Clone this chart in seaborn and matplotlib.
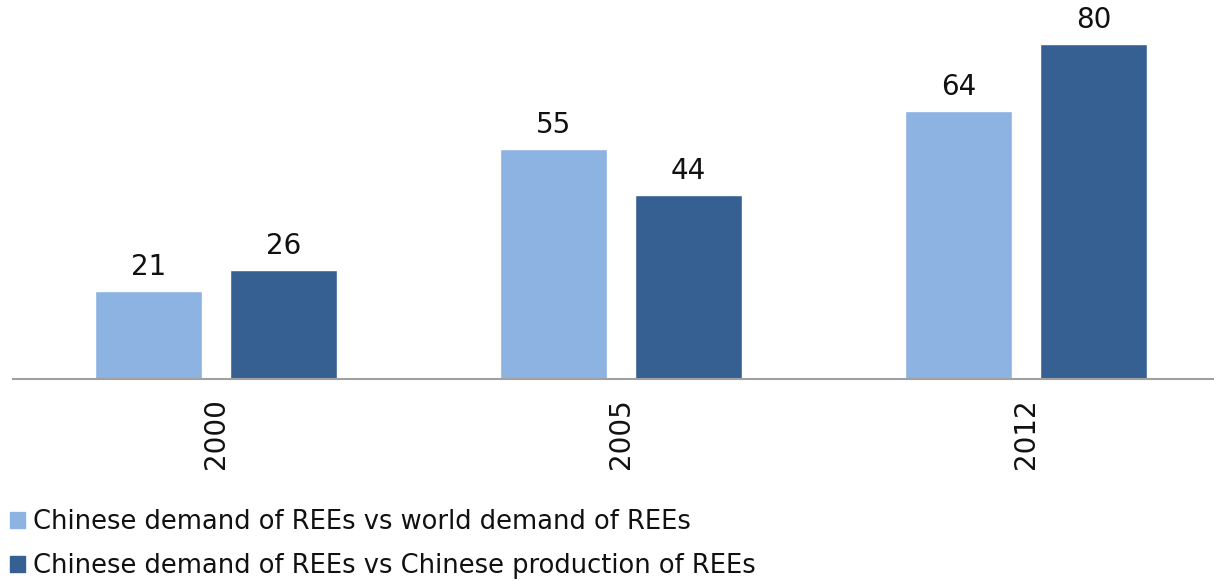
import numpy as np
import pandas as pd
import seaborn as sns
import matplotlib.pyplot as plt

years = ['2000', '2005', '2012']
world_share = [21, 55, 64]
production_share = [26, 44, 80]
series_names = ['Chinese demand of REEs vs world demand of REEs',
                'Chinese demand of REEs vs Chinese production of REEs']
colors = ['#8DB3E2', '#366092']

df = pd.DataFrame({
    'year': years * 2,
    'value': world_share + production_share,
    'series': [series_names[0]] * 3 + [series_names[1]] * 3,
})

sns.set_style('white')
plt.rcParams['font.family'] = ['DejaVu Sans']

fig = plt.figure(figsize=(12.14, 5.81), dpi=100)
ax = fig.add_axes([13 / 1214, (581 - 379) / 581, (1214 - 13) / 1214, 379 / 581])

sns.barplot(data=df, x='year', y='value', hue='series', palette=colors,
            width=0.667, gap=0.207, ax=ax, legend=False, saturation=1)

for cont in ax.containers:
    ax.bar_label(cont, padding=7, fontsize=20, color='#111111')

ax.set_xlim(-0.501, 2.464)
ax.set_ylim(0, 90.5)
ax.set_xlabel('')
ax.set_ylabel('')
ax.set_yticks([])
ax.tick_params(axis='x', length=0, pad=14, labelsize=20, labelrotation=90)
for lab in ax.get_xticklabels():
    lab.set_color('#111111')
for s in ['top', 'right', 'left']:
    ax.spines[s].set_visible(False)
ax.spines['bottom'].set_color('#a0a0a0')
ax.spines['bottom'].set_linewidth(1.5)

handles = [plt.Rectangle((0, 0), 1, 1, color=c) for c in colors]
leg = fig.legend(handles, series_names, loc='upper left', bbox_to_anchor=(0.004, 0.133),
                 frameon=False, fontsize=18.5, handlelength=0.6, handleheight=0.6,
                 handletextpad=0.3, labelspacing=0.72, borderaxespad=0, borderpad=0.2)
for t in leg.get_texts():
    t.set_color('#111111')

fig.savefig('out.png', dpi=100)
